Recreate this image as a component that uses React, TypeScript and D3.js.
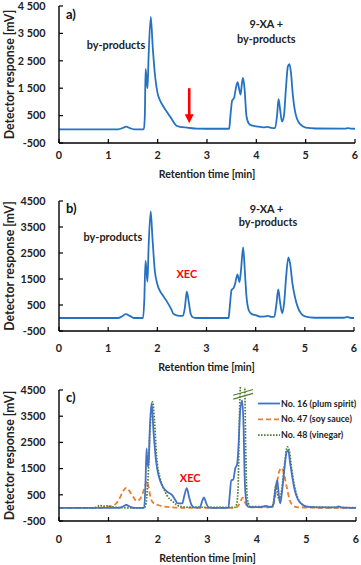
import React from "react";
import * as d3 from "d3";

// ---------- data ----------
const yTicks = [-500, 500, 1500, 2500, 3500, 4500];
const xTicks = [0, 1, 2, 3, 4, 5, 6];
const yTickLabelsA = ["-500", "500", "1 500", "2 500", "3 500", "4 500"];
const yTickLabelsBC = ["-500", "500", "1500", "2500", "3500", "4500"];

// panel a: blank sample
const aTime = [0, 1.2, 1.28, 1.36, 1.44, 1.52, 1.72, 1.74, 1.755, 1.775, 1.795, 1.815, 1.86, 1.9, 1.95, 2.0, 2.05, 2.1, 2.2, 2.3, 2.38, 2.45, 2.6, 2.8, 3.0, 3.45, 3.47, 3.51, 3.55, 3.58, 3.62, 3.66, 3.68, 3.71, 3.73, 3.76, 3.8, 3.85, 3.9, 4.0, 4.15, 4.22, 4.3, 4.38, 4.42, 4.45, 4.48, 4.52, 4.56, 4.6, 4.64, 4.67, 4.7, 4.74, 4.78, 4.82, 4.9, 5.0, 5.2, 5.8, 5.86, 5.92, 6.0];
const aSignal = [0, 0, 40, 100, 40, 0, 0, 500, 2200, 1800, 1500, 2600, 4100, 3000, 1900, 1300, 1050, 880, 600, 330, 130, 90, 60, 25, 20, 20, 400, 1050, 1150, 1450, 1720, 1400, 1270, 1700, 1880, 1500, 480, 200, 140, 110, 70, 85, 50, 40, 500, 1100, 750, 280, 500, 1500, 2300, 2380, 2100, 1250, 700, 400, 170, 60, 30, 25, 45, 25, 20];

// panel b: spiked sample
const bTime = [0, 1.2, 1.28, 1.36, 1.44, 1.52, 1.71, 1.735, 1.76, 1.78, 1.8, 1.82, 1.865, 1.9, 1.95, 2.0, 2.05, 2.1, 2.19, 2.28, 2.33, 2.45, 2.52, 2.56, 2.6, 2.64, 2.68, 2.72, 2.8, 3.45, 3.47, 3.51, 3.55, 3.58, 3.63, 3.67, 3.7, 3.745, 3.78, 3.81, 3.86, 3.92, 4.0, 4.1, 4.2, 4.25, 4.32, 4.38, 4.42, 4.46, 4.49, 4.54, 4.58, 4.62, 4.665, 4.7, 4.75, 4.8, 4.86, 4.92, 5.0, 5.2, 5.8, 5.86, 5.92, 6.0];
const bSignal = [0, 0, 60, 150, 80, 0, 0, 700, 2200, 1800, 1400, 2600, 4100, 3100, 1800, 1300, 1050, 900, 650, 350, 150, 80, 80, 400, 1010, 600, 150, 30, 0, 0, 350, 1080, 1150, 1300, 1680, 1380, 1800, 2720, 1800, 900, 300, 150, 110, 50, 60, 80, 40, 50, 500, 1100, 700, 180, 600, 1600, 2330, 2100, 1300, 800, 400, 180, 60, 10, 10, 40, 10, 0];

// panel c: real samples
const plumTime = [0, 1.2, 1.28, 1.36, 1.44, 1.52, 1.72, 1.745, 1.77, 1.79, 1.81, 1.83, 1.87, 1.91, 1.96, 2.01, 2.06, 2.12, 2.2, 2.29, 2.35, 2.4, 2.49, 2.53, 2.58, 2.63, 2.68, 2.74, 2.85, 2.89, 2.93, 2.97, 3.02, 3.1, 3.42, 3.45, 3.48, 3.52, 3.56, 3.6, 3.63, 3.66, 3.7, 3.73, 3.75, 3.78, 3.82, 3.9, 4.1, 4.18, 4.24, 4.32, 4.37, 4.41, 4.44, 4.47, 4.51, 4.56, 4.6, 4.63, 4.67, 4.72, 4.76, 4.82, 4.9, 5.0, 5.2, 5.6, 5.65, 5.7, 6.0];
const plumSignal = [0, 0, 40, 110, 40, 0, 0, 800, 2270, 1600, 1600, 2800, 4000, 2900, 1800, 1250, 950, 740, 600, 480, 300, 170, 170, 450, 750, 400, 100, 10, 30, 250, 400, 200, 20, 0, 0, 500, 1050, 1080, 1500, 1680, 2500, 3700, 4100, 3000, 1200, 300, 50, 30, 40, 80, 40, 40, 700, 1060, 500, 170, 700, 1600, 2150, 2200, 1700, 1100, 700, 350, 150, 50, 20, 20, 60, 20, 0];
const soyTime = [0, 0.8, 0.9, 1.0, 1.1, 1.2, 1.3, 1.36, 1.42, 1.5, 1.57, 1.62, 1.68, 1.74, 1.77, 1.81, 1.85, 1.9, 2.0, 2.1, 2.3, 2.6, 3.55, 3.62, 3.68, 3.71, 3.75, 3.8, 3.9, 4.2, 4.3, 4.36, 4.4, 4.45, 4.5, 4.55, 4.6, 4.66, 4.72, 4.8, 5.0, 6.0];
const soySignal = [0, 0, 20, 50, 90, 280, 650, 770, 650, 420, 260, 300, 500, 850, 1020, 800, 400, 200, 110, 60, 20, 0, 0, 80, 300, 390, 250, 80, 20, 20, 60, 350, 900, 1400, 1530, 1250, 800, 300, 100, 30, 10, 0];
const vinegarTime = [0, 0.7, 0.78, 0.83, 0.88, 0.95, 1.05, 1.15, 1.5, 1.72, 1.76, 1.8, 1.84, 1.89, 1.93, 1.97, 2.04, 2.1, 2.18, 2.31, 2.44, 2.6, 3.55, 3.59, 3.62, 3.64, 3.67, 3.75, 3.77, 3.79, 3.82, 3.87, 4.3, 4.35, 4.38, 4.41, 4.45, 4.5, 4.56, 4.61, 4.65, 4.7, 4.75, 4.82, 4.9, 5.0, 5.5, 6.0];
const vinegarSignal = [0, 0, 60, 100, 60, 80, 60, 20, 0, 0, 200, 1200, 3000, 4050, 3300, 2000, 1150, 800, 480, 225, 60, 30, 20, 150, 900, 3000, 4700, 4700, 2500, 800, 200, 50, 50, 400, 870, 600, 300, 700, 1700, 2330, 2200, 1500, 900, 400, 150, 50, 20, 10];

const legendLabels = ["No. 16 (plum spirit)", "No. 47 (soy sauce)", "No. 48 (vinegar)"];

// ---------- styling ----------
const FONT = "Lato, 'Open Sans', sans-serif";
const BLUE_AB = "#2672c2";
const BLUE_C = "#4472c4";
const ORANGE = "#ed7d31";
const GREEN = "#4f7f2f";
const RED = "#ff0000";

const X0 = 59;

type Series = { t: number[]; v: number[]; color: string; dash?: string; width: number };

function Panel(props: {
  top: number; bottom: number; right: number; tickY: number; titleY: number;
  labels: string[]; series: Series[]; letter: string; children?: (x: any, y: any) => React.ReactNode; id: string;
}) {
  const { top, bottom, right, tickY, titleY, labels, series, letter, children, id } = props;
  const x = d3.scaleLinear().domain([0, 6]).range([X0, right]);
  const y = d3.scaleLinear().domain([-500, 4500]).range([bottom, top]);
  const line = d3.line<[number, number]>().x(d => x(d[0])).y(d => y(d[1])).curve(d3.curveMonotoneX);
  return (
    <g>
      <defs>
        <clipPath id={id}>
          <rect x={X0} y={top - 3} width={right - X0 + 2} height={bottom - top + 3} />
        </clipPath>
      </defs>
      <g clipPath={`url(#${id})`}>
        {series.map((s, i) => (
          <path key={i} d={line(s.t.map((t, j) => [t, s.v[j]] as [number, number])) || ""}
            fill="none" stroke={s.color} strokeWidth={s.width} strokeDasharray={s.dash}
            strokeLinejoin="round" />
        ))}
      </g>
      {/* axes */}
      <line x1={X0} x2={X0} y1={top} y2={bottom} stroke="#000" strokeWidth={1.4} />
      <line x1={X0} x2={right} y1={bottom} y2={bottom} stroke="#000" strokeWidth={1.4} />
      {yTicks.map((v, i) => (
        <g key={v}>
          <line x1={X0} x2={X0 + 4} y1={y(v)} y2={y(v)} stroke="#000" strokeWidth={1.2} />
          <text x={45.5} y={y(v)} dy="0.35em" textAnchor="end" fontSize={10.8} fontWeight={700} fill="#222">{labels[i]}</text>
        </g>
      ))}
      {xTicks.map(t => (
        <g key={t}>
          <line x1={x(t)} x2={x(t)} y1={bottom} y2={bottom - 4} stroke="#000" strokeWidth={1.2} />
          <text x={x(t)} y={tickY} dy="0.35em" textAnchor="middle" fontSize={10.8} fontWeight={700} fill="#222">{t}</text>
        </g>
      ))}
      <text x={(X0 + right) / 2} y={titleY} dy="0.35em" textAnchor="middle" fontSize={10.6} fontWeight={700} fill="#222">Retention time [min]</text>
      <text transform={`translate(10,${(top + bottom) / 2}) rotate(-90)`} dy="0.35em" textAnchor="middle" fontSize={12.3} fontWeight={700} fill="#222">Detector response [mV]</text>
      <text x={66} y={y(4200)} dy="0.35em" fontSize={13} fontWeight={700} fill="#111">{letter}</text>
      {children && children(x, y)}
    </g>
  );
}

export default function App() {
  return (
    <div style={{ position: "absolute", left: 0, top: 0 }}>
      <svg width={361} height={565} style={{ display: "block", fontFamily: FONT }}>
        <rect width={361} height={565} fill="#fff" />
        <Panel id="ca" top={6} bottom={143} right={355} tickY={155} titleY={174} labels={yTickLabelsA} letter="a)"
          series={[{ t: aTime, v: aSignal, color: BLUE_AB, width: 1.8 }]}>
          {(x, y) => (
            <g>
              <text x={x(0.56)} y={y(3060)} dy="0.35em" fontSize={10.9} fontWeight={700} fill="#222">by-products</text>
              <text x={x(4.2)} y={y(3850)} dy="0.35em" textAnchor="middle" fontSize={10.9} fontWeight={700} fill="#222">9-XA +</text>
              <text x={x(4.2)} y={y(3300)} dy="0.35em" textAnchor="middle" fontSize={10.9} fontWeight={700} fill="#222">by-products</text>
              <line x1={x(2.64)} x2={x(2.64)} y1={y(1500)} y2={y(500)} stroke={RED} strokeWidth={2.6} />
              <path d={`M${x(2.64) - 4.5},${y(550)} L${x(2.64) + 4.5},${y(550)} L${x(2.64)},${y(220)} Z`} fill={RED} />
            </g>
          )}
        </Panel>
        <Panel id="cb" top={201} bottom={331} right={354} tickY={348} titleY={367} labels={yTickLabelsBC} letter="b)"
          series={[{ t: bTime, v: bSignal, color: BLUE_AB, width: 1.8 }]}>
          {(x, y) => (
            <g>
              <text x={x(0.5)} y={y(3100)} dy="0.35em" fontSize={10.9} fontWeight={700} fill="#222">by-products</text>
              <text x={x(4.22)} y={y(4200)} dy="0.35em" textAnchor="middle" fontSize={10.9} fontWeight={700} fill="#222">9-XA +</text>
              <text x={x(4.25)} y={y(3700)} dy="0.35em" textAnchor="middle" fontSize={10.9} fontWeight={700} fill="#222">by-products</text>
              <text x={x(2.6)} y={y(1700)} dy="0.35em" textAnchor="middle" fontSize={10.9} fontWeight={700} fill={RED}>XEC</text>
            </g>
          )}
        </Panel>
        <Panel id="cc" top={390} bottom={521} right={356} tickY={539} titleY={558} labels={yTickLabelsBC} letter="c)"
          series={[
            { t: soyTime, v: soySignal, color: ORANGE, dash: "5,3", width: 1.8 },
            { t: vinegarTime, v: vinegarSignal, color: GREEN, dash: "1.6,1.4", width: 1.7 },
            { t: plumTime, v: plumSignal, color: BLUE_C, width: 1.8 },
          ]}>
          {(x, y) => (
            <g>
              <text x={x(2.65)} y={y(1150)} dy="0.35em" textAnchor="middle" fontSize={10.9} fontWeight={700} fill={RED}>XEC</text>
              <line x1={x(3.52)} x2={x(3.92)} y1={y(4300)} y2={y(4520)} stroke={GREEN} strokeWidth={1.2} />
              <line x1={x(3.52)} x2={x(3.92)} y1={y(4150)} y2={y(4370)} stroke={GREEN} strokeWidth={1.2} />
              {legendLabels.map((lab, i) => {
                const ly = 403.5 + i * 15.8;
                const st = [
                  { c: BLUE_C, d: undefined, w: 1.8 },
                  { c: ORANGE, d: "5,3", w: 1.8 },
                  { c: GREEN, d: "1.6,1.4", w: 1.7 },
                ][i];
                return (
                  <g key={lab}>
                    <line x1={258} x2={280} y1={ly} y2={ly} stroke={st.c} strokeWidth={st.w} strokeDasharray={st.d} />
                    <text x={281} y={ly} dy="0.35em" fontSize={8.9} fontWeight={700} fill="#222">{lab}</text>
                  </g>
                );
              })}
            </g>
          )}
        </Panel>
      </svg>
    </div>
  );
}
